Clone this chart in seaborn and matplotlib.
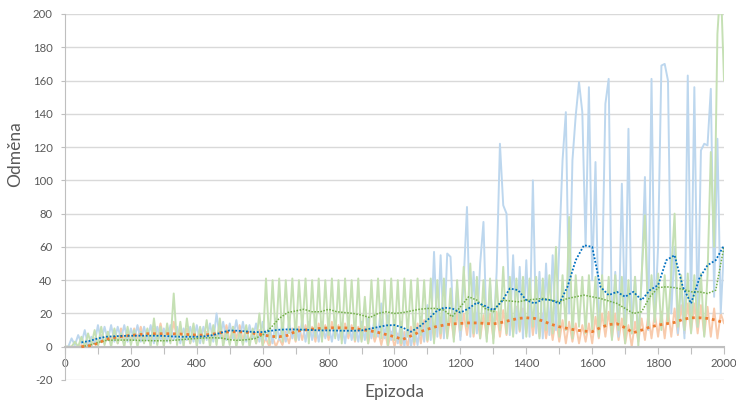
import numpy as np
import pandas as pd
import matplotlib
matplotlib.use("Agg")
import matplotlib.pyplot as plt
import seaborn as sns

# raw rewards, one value every 10 episodes (0..2000)
blue_raw = [
    0, 0, 5, 1, 7, 2, 10, 1, 6, 2,
    13, 3, 12, 4, 13, 3, 12, 5, 13, 3,
    11, 4, 13, 3, 12, 4, 13, 2, 12, 4,
    11, 3, 13, 4, 12, 2, 11, 4, 12, 3,
    13, 2, 12, 4, 14, 3, 20, 5, 15, 4,
    14, 5, 16, 4, 15, 3, 13, 5, 14, 3,
    15, 4, 14, 2, 17, 4, 14, 3, 15, 5,
    14, 4, 16, 3, 15, 4, 14, 3, 15, 5,
    13, 3, 15, 4, 14, 2, 16, 4, 14, 3,
    15, 4, 17, 5, 18, 6, 26, 5, 19, 4,
    16, 2, 15, 0, 14, 0, 12, 1, 18, 3,
    25, 4, 57, 6, 55, 5, 56, 54, 8, 35,
    4, 40, 84, 6, 45, 8, 50, 75, 5, 38,
    6, 45, 122, 85, 80, 7, 55, 8, 48, 5,
    52, 6, 100, 8, 45, 5, 50, 7, 55, 10,
    60, 112, 141, 20, 112, 139, 159, 141, 60, 156,
    40, 111, 8, 40, 146, 161, 10, 45, 6, 98,
    10, 131, 8, 42, 5, 40, 102, 10, 161, 15,
    60, 169, 170, 160, 20, 60, 8, 40, 5, 163,
    20, 156, 12, 118, 122, 121, 155, 30, 125, 20,
    60,
]
green_raw = [
    0, 0, 0, 3, 0, 6, 0, 8, 1, 10,
    0, 12, 1, 9, 0, 11, 2, 8, 0, 12,
    1, 10, 0, 9, 2, 11, 0, 17, 1, 12,
    0, 14, 2, 32, 1, 15, 0, 17, 2, 14,
    0, 12, 2, 16, 0, 13, 1, 17, 0, 10,
    1, 12, 0, 9, 1, 13, 0, 11, 2, 20,
    0, 41, 2, 40, 5, 41, 3, 40, 8, 41,
    4, 40, 10, 41, 2, 40, 6, 41, 3, 40,
    7, 41, 5, 40, 2, 41, 8, 40, 4, 41,
    3, 30, 2, 40, 6, 41, 5, 40, 1, 41,
    4, 40, 2, 41, 6, 40, 3, 41, 7, 40,
    4, 41, 2, 40, 8, 41, 5, 35, 3, 40,
    10, 48, 12, 50, 8, 42, 5, 40, 3, 41,
    2, 40, 10, 48, 8, 42, 6, 41, 10, 42,
    6, 41, 12, 42, 5, 41, 10, 43, 8, 60,
    6, 43, 10, 78, 5, 43, 12, 42, 8, 43,
    10, 42, 6, 43, 12, 42, 4, 43, 10, 42,
    2, 40, 8, 42, 0, 43, 79, 12, 43, 15,
    44, 10, 43, 14, 44, 80, 12, 43, 10, 44,
    8, 43, 12, 44, 6, 43, 117, 60, 188, 220,
    160,
]
orange_raw = [
    0, 0, 0, 0, 0, 1, 0, 3, 0, 5,
    1, 7, 2, 9, 3, 10, 2, 11, 4, 10,
    3, 11, 5, 12, 4, 10, 3, 11, 5, 14,
    4, 10, 3, 15, 5, 10, 4, 11, 2, 10,
    3, 11, 4, 9, 3, 11, 5, 12, 4, 13,
    3, 12, 5, 13, 4, 11, 3, 10, 2, 10,
    1, 5, 0, 6, 0, 5, 1, 9, 2, 11,
    3, 12, 4, 13, 5, 12, 3, 14, 5, 13,
    4, 15, 6, 13, 4, 14, 5, 13, 3, 12,
    4, 12, 2, 11, 3, 10, 1, 10, 0, 9,
    0, 8, 0, 9, 0, 12, 1, 14, 2, 16,
    3, 18, 4, 19, 5, 20, 6, 19, 5, 21,
    6, 20, 7, 21, 6, 20, 5, 19, 6, 20,
    5, 21, 6, 22, 7, 23, 8, 24, 9, 23,
    8, 24, 7, 22, 6, 20, 5, 18, 4, 17,
    3, 16, 2, 15, 3, 14, 2, 13, 3, 14,
    2, 18, 5, 20, 6, 21, 5, 20, 4, 17,
    2, 13, 0, 15, 3, 17, 4, 19, 5, 20,
    6, 21, 5, 22, 6, 23, 7, 25, 8, 26,
    9, 26, 8, 25, 7, 24, 6, 23, 5, 20,
    14,
]

# moving-average trend lines, one value every 25 episodes (50..2000)
blue_trend = [
    2.6, 3.5, 5, 6, 6.3, 6.5, 6.6, 6.6, 6.6, 6.6,
    6.5, 6.2, 6, 6, 6, 6.3, 7, 8.5, 9.8, 9.6,
    9.2, 8.8, 8.8, 9.6, 10.2, 10.4, 10.4, 10.2, 10, 9.8,
    9.8, 9.7, 9.6, 9.6, 9.8, 10.8, 11.8, 12.8, 13, 11.5,
    9, 12, 16, 21, 23.5, 23, 20.5, 23, 26.5, 24.5,
    22, 27, 35, 34, 28, 26, 28.5, 28, 26, 36,
    52, 61, 60, 36, 31, 33, 30, 33, 28, 34,
    37, 52, 55, 36, 26, 41, 49, 52, 61,
]
green_trend = [
    0, 1, 2.5, 3.8, 4, 4, 4, 3.8, 3.7, 3.6,
    3.6, 3.8, 4.2, 4.6, 5, 5.3, 5.4, 5.2, 4.2, 3.8,
    4.2, 4.8, 7, 11.5, 17, 20.5, 21.5, 22.5, 21, 21,
    22.5, 21, 20.5, 20, 19, 17.5, 20, 21, 20, 20.5,
    21.5, 22.5, 23, 23, 22, 18, 24, 30, 28, 23,
    21, 28, 27.5, 27, 28, 28.5, 29, 28, 27, 29,
    30, 31, 30, 29, 27.5, 26, 23, 20, 21, 30,
    35.5, 36, 35.5, 34.5, 33, 33, 32, 34, 60,
]
orange_trend = [
    0, 0.6, 2, 4.5, 5.5, 6.3, 6.8, 7.3, 7.8, 7.8,
    7.8, 7.8, 7.6, 7.3, 7, 7, 7.6, 8.5, 9, 9,
    8.7, 8, 7.2, 6.2, 6, 6.8, 9.2, 10, 10.6, 11,
    11.3, 11.4, 11.3, 11, 10.3, 9.6, 8.6, 7.3, 6, 4.4,
    6.5, 8.8, 10.5, 12, 13, 13.7, 14, 14.3, 14.3, 14,
    13.7, 14.6, 15.8, 17, 17.4, 17, 15.5, 13.5, 12, 11,
    10, 9.4, 9, 11.5, 13.3, 13.8, 11.4, 8.4, 10, 11.8,
    13, 13.8, 14.6, 16.4, 17.4, 17.4, 17, 16, 14.4,
]

y_ticks = [-20, 0, 20, 40, 60, 80, 100, 120, 140, 160, 180, 200]
x_ticks = [0, 200, 400, 600, 800, 1000, 1200, 1400, 1600, 1800, 2000]

raw_ep = np.arange(len(blue_raw)) * 10
trend_ep = 50 + np.arange(len(blue_trend)) * 25

sns.set_theme(style="white")
plt.rcParams['font.family'] = ['Lato', 'DejaVu Sans']
plt.rcParams['axes.unicode_minus'] = False
TXT = '#595959'

fig = plt.figure(figsize=(7.36, 4.03), dpi=100)
ax = fig.add_axes([0.0883, 0.0571, 0.8954, 0.9082])

for v in y_ticks:
    ax.axhline(v, color='#D9D9D9', lw=1.0, zorder=0)

lw_raw = 1.4
sns.lineplot(x=raw_ep, y=orange_raw, ax=ax, color='#F8CBAD', lw=lw_raw, zorder=1)
sns.lineplot(x=raw_ep, y=blue_raw, ax=ax, color='#BDD7EE', lw=lw_raw, zorder=2)
sns.lineplot(x=raw_ep, y=green_raw, ax=ax, color='#C5E0B4', lw=lw_raw, zorder=3)

sns.lineplot(x=trend_ep, y=green_trend, ax=ax, color='#70AD47', lw=1.1,
             linestyle=(0, (1, 1)), zorder=5)
sns.lineplot(x=trend_ep, y=orange_trend, ax=ax, color='#ED7D31', lw=2.0,
             linestyle=(0, (1, 1.4)), zorder=6)
sns.lineplot(x=trend_ep, y=blue_trend, ax=ax, color='#0070C0', lw=1.3,
             linestyle=(0, (1, 1)), zorder=7)

ax.set_xlim(0, 2000)
ax.set_ylim(-20, 200)
ax.set_yticks(y_ticks)
ax.set_yticklabels([str(v) for v in y_ticks])
ax.set_xticks(x_ticks)
ax.set_xticks(np.arange(100, 2000, 200), minor=True)
ax.set_xticklabels([str(v) for v in x_ticks])

for s in ['top', 'right']:
    ax.spines[s].set_visible(False)
ax.spines['bottom'].set_position(('data', 0))
ax.spines['bottom'].set_color('#BFBFBF')
ax.spines['bottom'].set_linewidth(1.5)
ax.spines['bottom'].set_zorder(4)
ax.spines['left'].set_color('#BFBFBF')
ax.spines['left'].set_linewidth(0.8)

ax.tick_params(axis='x', which='both', direction='out', length=5, width=0.8,
               color='#BFBFBF', labelcolor=TXT, labelsize=8.2, pad=3, bottom=True)
ax.tick_params(axis='y', direction='out', length=3, width=0.8,
               color='#BFBFBF', labelcolor=TXT, labelsize=8.2, pad=6, left=True)

ax.set_xlabel('Epizoda', color=TXT, fontsize=12.5)
ax.set_ylabel('Odměna', color=TXT, fontsize=12.5)
ax.xaxis.set_label_coords(0.4995, -0.012)
ax.yaxis.set_label_coords(-0.064, 0.617)

fig.savefig('out.png', dpi=100)
